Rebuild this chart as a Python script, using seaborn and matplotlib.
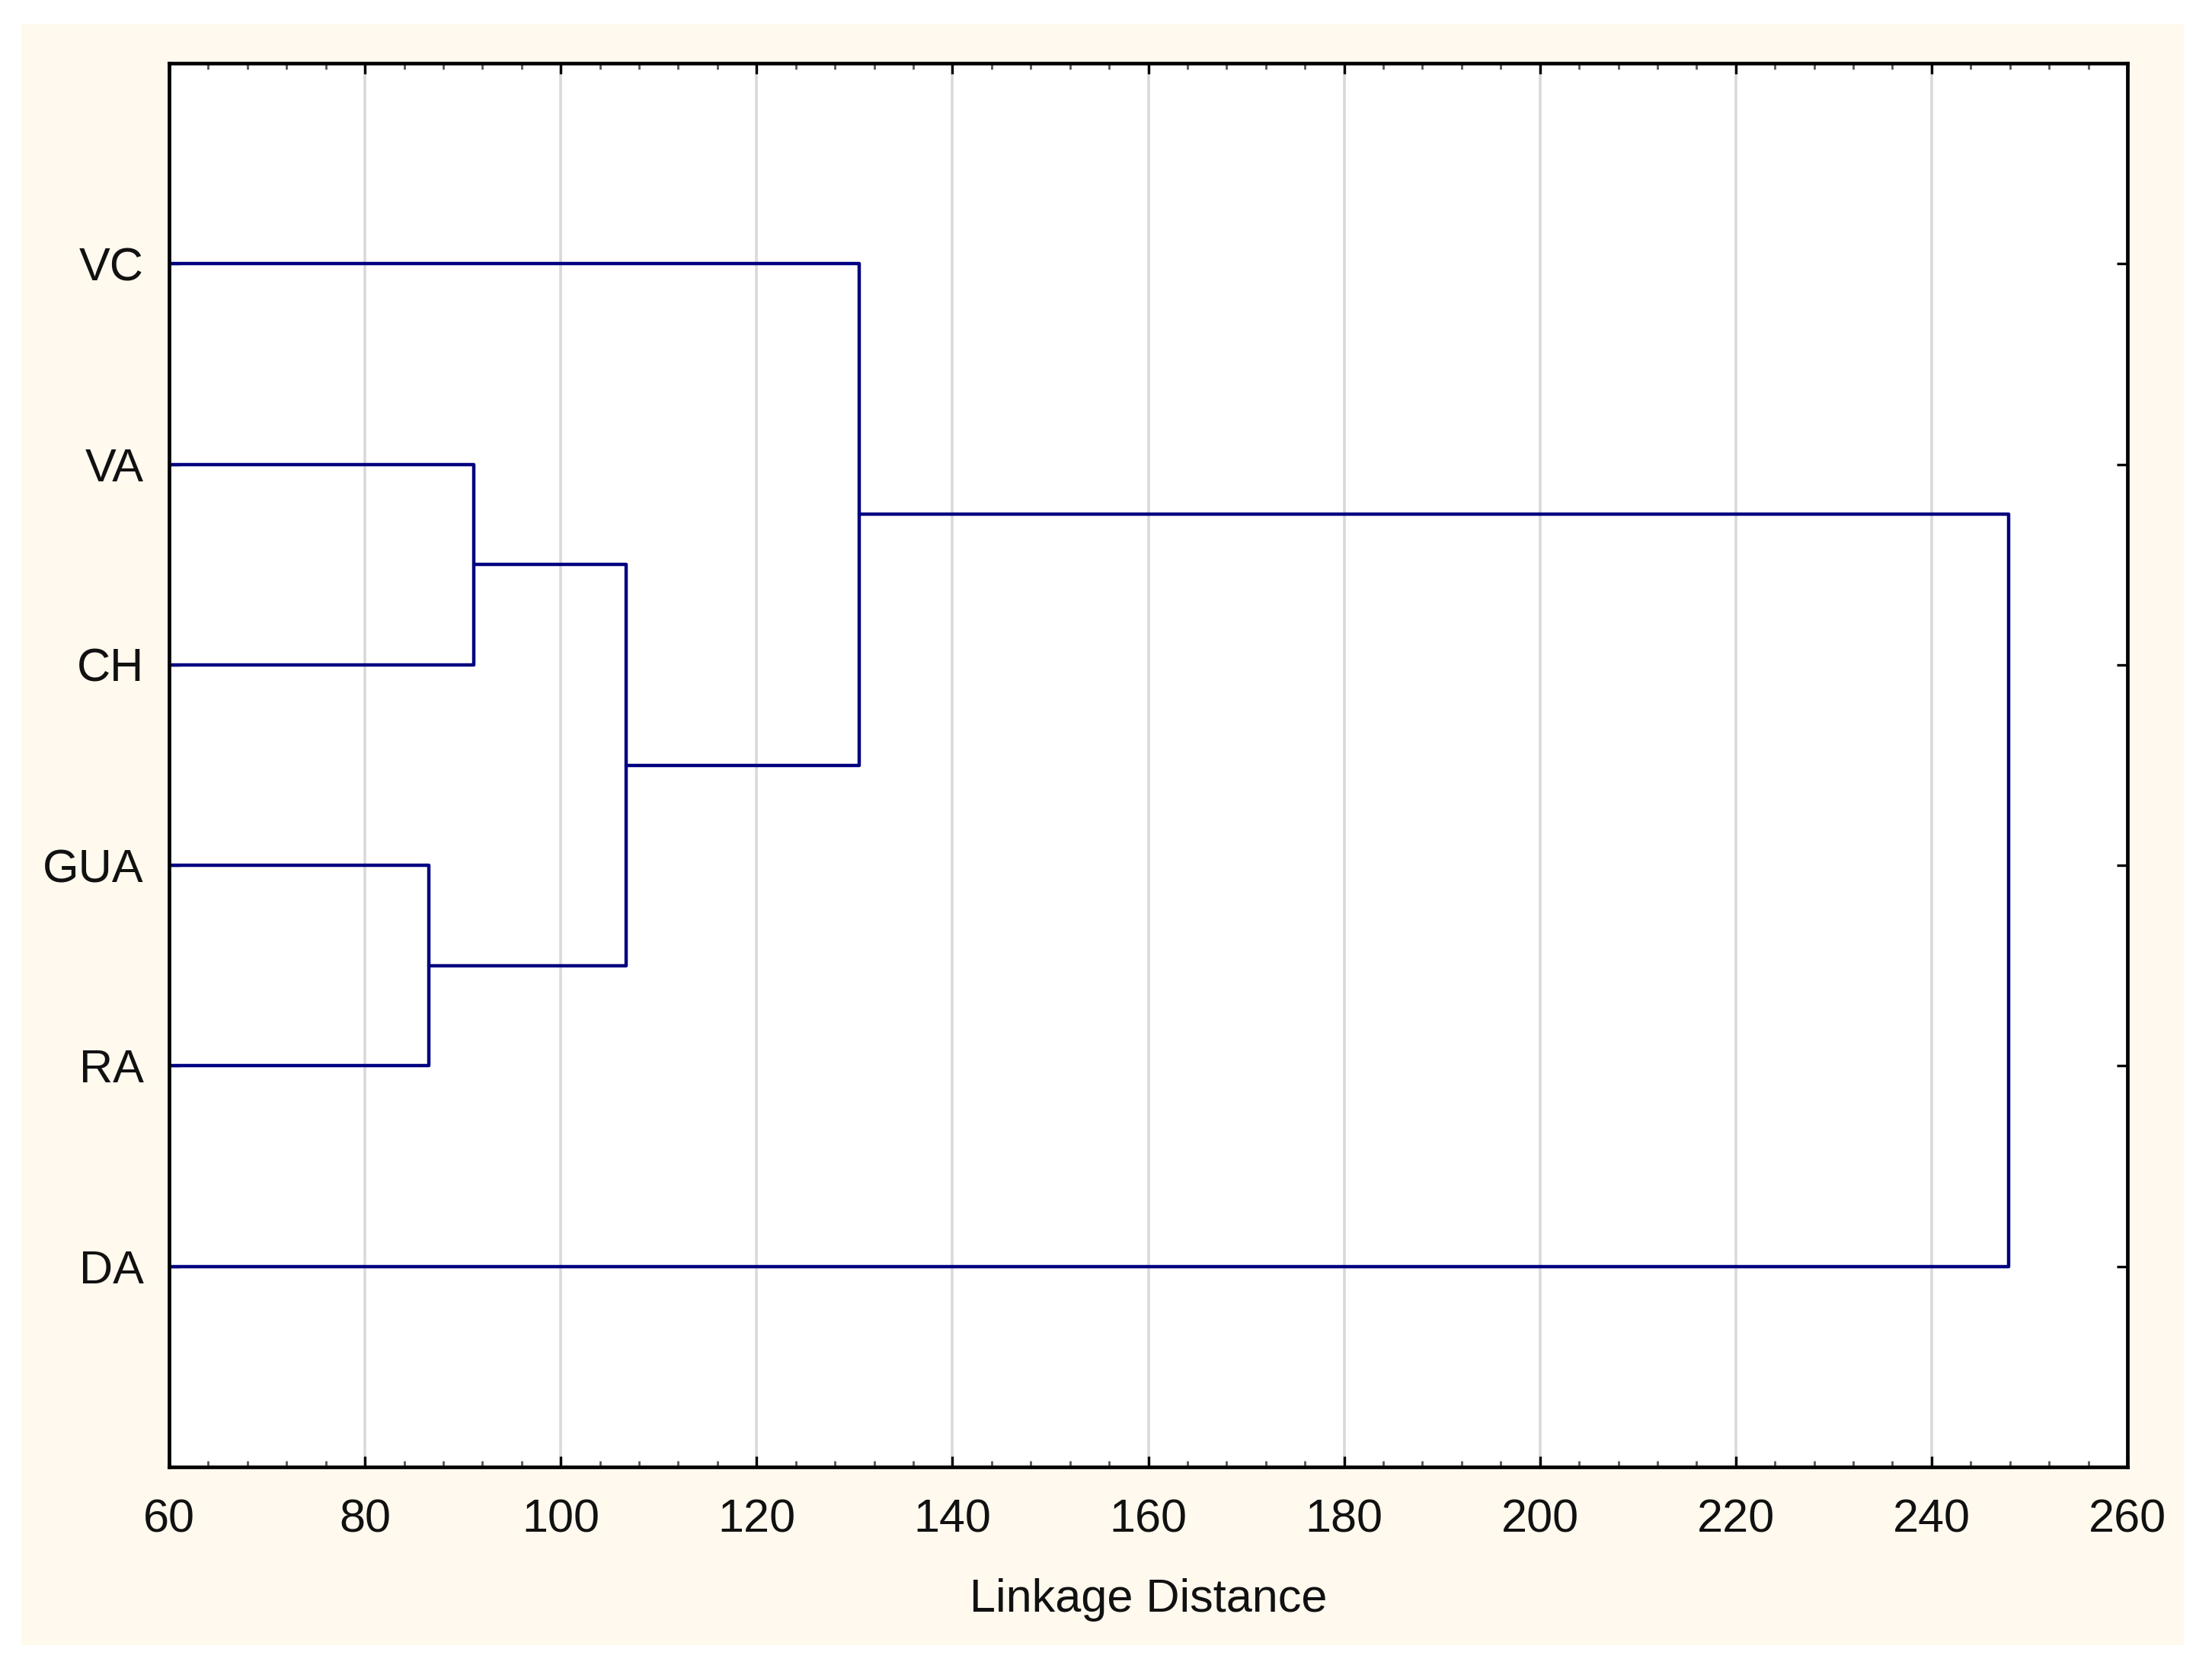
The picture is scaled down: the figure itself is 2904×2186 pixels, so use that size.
import numpy as np
import pandas as pd
import matplotlib
matplotlib.use("Agg")
import matplotlib.pyplot as plt
from matplotlib.ticker import MultipleLocator, FixedLocator
from matplotlib.patches import Rectangle
import seaborn as sns

# ---- data -------------------------------------------------------------
leaf_labels = ["VC", "VA", "CH", "GUA", "RA", "DA"]   # top -> bottom
# linkage: node ids 0..5 are leaves, new clusters get 6,7,...
merge_left = [3, 1, 7, 0, 9]
merge_right = [4, 2, 6, 8, 5]
merge_height = [86.5, 91.1, 106.7, 130.5, 247.9]
x_ticks = [60, 80, 100, 120, 140, 160, 180, 200, 220, 240, 260]
x_label = "Linkage Distance"

# ---- build dendrogram segments --------------------------------------
pos = {i: float(i) for i in range(len(leaf_labels))}
hgt = {i: 0.0 for i in range(len(leaf_labels))}
rows = []
for k, (a, b, h) in enumerate(zip(merge_left, merge_right, merge_height)):
    node = len(leaf_labels) + k
    ya, yb = pos[a], pos[b]
    xs = [hgt[a], h, h, hgt[b]]
    ys = [ya, ya, yb, yb]
    for xx, yy in zip(xs, ys):
        rows.append({"merge": k, "x": xx, "y": yy})
    pos[node] = (ya + yb) / 2.0
    hgt[node] = h
df = pd.DataFrame(rows)

# ---- style ------------------------------------------------------------
sns.set_theme(style="white")
plt.rcParams["font.family"] = ["Liberation Sans", "DejaVu Sans"]

fig = plt.figure(figsize=(14.52, 10.93), dpi=200, facecolor="white")
cream = "#FFF9EE"
fig.patches.append(Rectangle((28 / 2904, 1 - 2160 / 2186), (2867 - 28) / 2904,
                             (2160 - 32) / 2186, transform=fig.transFigure,
                             facecolor=cream, edgecolor="none", zorder=-10))

ax = fig.add_axes([222 / 2904, 1 - 1926 / 2186, (2793 - 222) / 2904, (1926 - 83) / 2186])
ax.set_facecolor("white")

navy = "#000080"
sns.lineplot(data=df, x="x", y="y", units="merge", estimator=None, sort=False,
             color=navy, linewidth=1.6, ax=ax, legend=False)

ax.set_xlim(60, 260)
ax.set_ylim(6, -1)
ax.xaxis.set_major_locator(FixedLocator(x_ticks))
ax.xaxis.set_minor_locator(MultipleLocator(4))
ax.set_yticks(range(len(leaf_labels)))
ax.set_yticklabels(leaf_labels)

ax.grid(True, axis="x", which="major", color="#d9d9d9", linewidth=1.3, zorder=0)
ax.grid(False, axis="y")
ax.set_axisbelow(True)

for sp in ax.spines.values():
    sp.set_visible(True)
    sp.set_color("black")
    sp.set_linewidth(1.7)

ax.tick_params(axis="x", which="major", direction="in", length=5, width=1.2,
               color="black", top=True, bottom=True, labelsize=22, pad=15)
ax.tick_params(axis="x", which="minor", direction="in", length=3, width=1.0,
               color="#555555", top=True, bottom=True)
ax.tick_params(axis="y", which="major", direction="in", length=5, width=1.2,
               color="black", left=True, right=True, labelsize=22, pad=12)

for lab in ax.get_xticklabels():
    lab.set_family(["Liberation Sans Narrow", "Liberation Sans", "DejaVu Sans"])
    lab.set_color("#111111")
for lab in ax.get_yticklabels():
    lab.set_color("#111111")

ax.set_xlabel(x_label, fontsize=22, labelpad=17, color="#111111",
              family=["Liberation Sans Narrow", "Liberation Sans", "DejaVu Sans"])
ax.set_ylabel("")

fig.savefig("out.png", dpi=200, facecolor="white")
